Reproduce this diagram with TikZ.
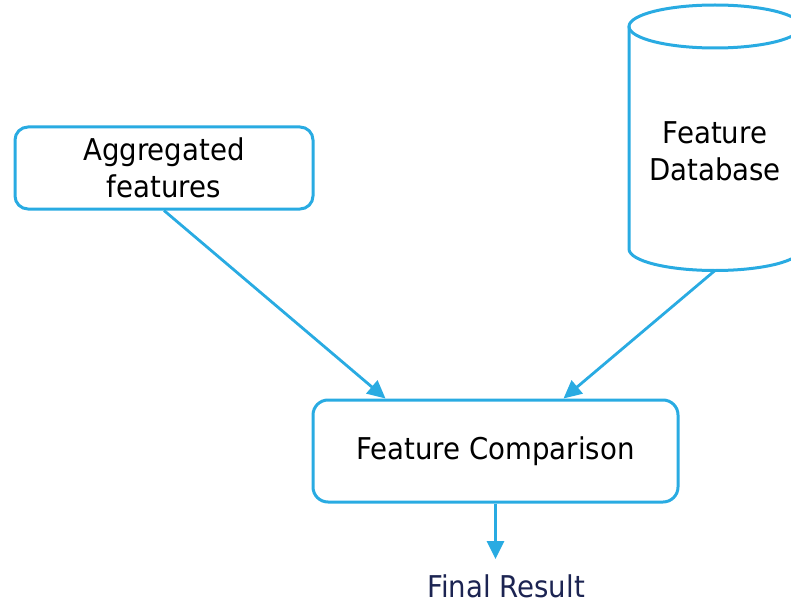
\documentclass[tikz,border=0pt]{standalone}
\usepackage{fontspec}
\setmainfont{DejaVu Sans}[FakeStretch=0.92]
\usetikzlibrary{arrows.meta}
\definecolor{lineblue}{HTML}{29ABE2}
\definecolor{navy}{HTML}{1C2452}
\begin{document}
\begin{tikzpicture}[x=1pt,y=-1pt,
  every node/.style={font=\fontsize{30}{37}\selectfont, inner sep=0pt},
  boxstyle/.style={draw=lineblue, line width=3pt, rounded corners=13pt, align=center},
  conn/.style={draw=lineblue, line width=2.8pt, -{Triangle[length=18pt,width=17pt]}}]
\useasboundingbox (0,0) rectangle (791,604);
% Aggregated features
\node[boxstyle, minimum width=298pt, minimum height=82pt] (agg) at (164,168) {Aggregated\\features};
% Feature Comparison
\node[boxstyle, rounded corners=15pt, minimum width=365pt, minimum height=102pt] (cmp) at (495.5,451) {Feature Comparison};
% Database cylinder
\draw[lineblue, line width=3pt] (629,26.5) -- (629,249) arc[start angle=180, end angle=0, x radius=86, y radius=21.5] -- (801,26.5);
\draw[lineblue, line width=3pt] (715,26.5) ellipse [x radius=86, y radius=21.5];
\node[align=center] (db) at (715,151) {Feature\\Database};
\coordinate (dbbot) at (715,270.5);
% Result
\node[text=navy] (res) at (506,586) {Final Result};
\coordinate (resin) at (495.5,559);
% Connectors
\draw[conn] (agg.south) -- ([xshift=-110pt]cmp.north);
\draw[conn] (dbbot) -- ([xshift=68pt]cmp.north);
\draw[conn] (cmp.south) -- (resin);
\end{tikzpicture}
\end{document}
